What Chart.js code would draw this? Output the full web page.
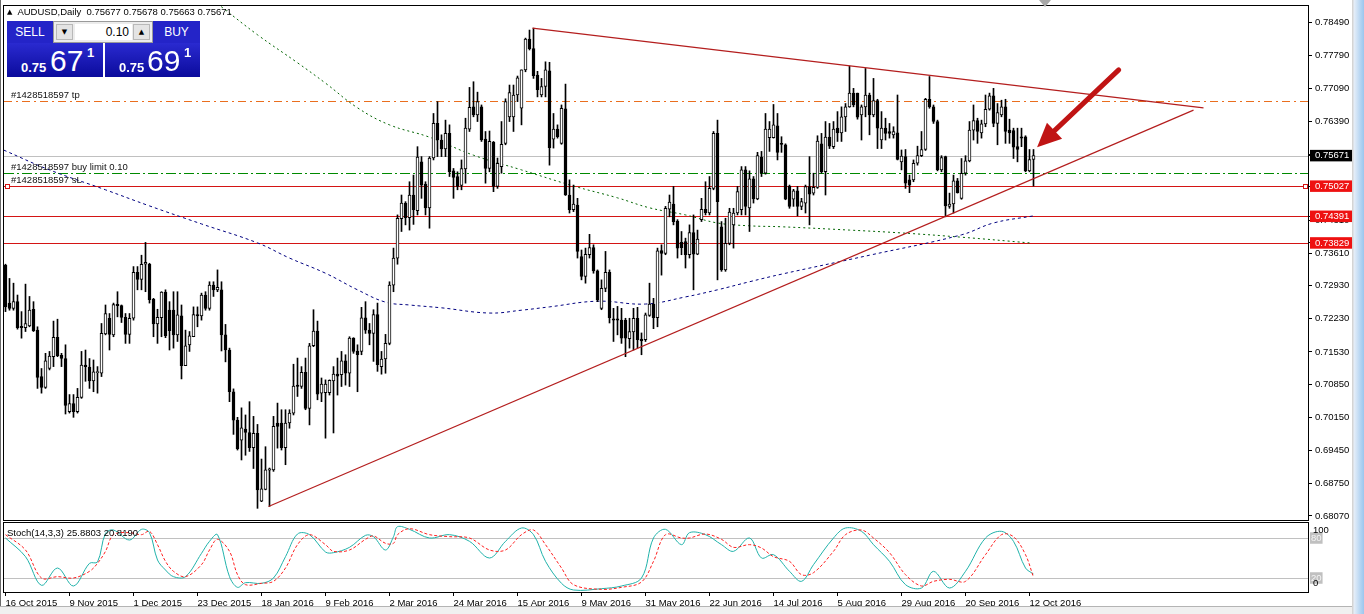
<!DOCTYPE html>
<html>
<head>
<meta charset="utf-8">
<title>AUDUSD Daily</title>
<script src="https://cdn.jsdelivr.net/npm/chart.js@4.4.1/dist/chart.umd.min.js"></script>
<style>
  html, body { margin: 0; padding: 0; background: #fff; }
  body { width: 1364px; height: 614px; position: relative; overflow: hidden;
         font-family: "Liberation Sans", Arial, sans-serif; }
  canvas { position: absolute; left: 0; }
  #mainChart { top: 0; }
  #stochChart { top: 520px; }
  .abs { position: absolute; white-space: nowrap; }
  #title { left: 7px; top: 6px; font-size: 9.5px; color: #000; }
  #title .tri { font-family: "DejaVu Sans"; font-size: 7px; margin-right: 5px; position: relative; top: -1px; }
  #stochTitle { left: 7px; top: 527px; font-size: 9.5px; color: #000; }
  .btn { color: #fff; background: #2424c8; font-size: 12px; text-align: center; line-height: 22px; box-sizing: border-box; }
  .quote { background: linear-gradient(#2a2ad0, #0b0b9c); color: #fff; box-sizing: border-box; }
  .quote span { position: absolute; }
  .small { font-size: 13px; font-weight: bold; line-height: 13px; }
  .big { font-size: 30px; line-height: 30px; }
  #lotBox { left: 53px; top: 21px; width: 100px; height: 22px; background: #ececec; border: 1px solid #9a9a9a; box-sizing: border-box; }
  .spin { position: absolute; top: 2px; width: 17px; height: 16px; background: #e4e4e4; border: 1px solid #b8b8b8; box-sizing: border-box;
          font-family: "DejaVu Sans"; font-size: 7px; line-height: 14px; text-align: center; color: #000; }
  #lotInput { position: absolute; left: 21px; top: 2px; width: 57px; height: 16px; background: #fff; font-size: 12px; line-height: 16px; text-align: right; padding-right: 3px; box-sizing: border-box; }
  #shiftMark { left: 1039px; top: 0; width: 0; height: 0; border-left: 6px solid transparent; border-right: 6px solid transparent; border-top: 7px solid #a8a8a8; }
  #sideBar { left: 1352px; top: 0; width: 12px; height: 614px; background: linear-gradient(to right, #d4d4d4 0, #d4d4d4 1px, #e6eef8 2px, #b8d6f2 8px, #9cc6ee 12px); }
  #bottomBar { left: 0; top: 606px; width: 1352px; height: 8px; background: #f0f0f0; border-top: 1px solid #b4b4b4; }
  #leftEdge { left: 0; top: 0; width: 1px; height: 606px; background: #6a6a6a; }
</style>
</head>
<body>
<canvas id="mainChart" width="1352" height="524"></canvas>
<canvas id="stochChart" width="1352" height="94"></canvas>

<div id="leftEdge" class="abs"></div>
<div id="title" class="abs"><span class="tri">▲</span>AUDUSD,Daily&nbsp; 0.75677 0.75678 0.75663 0.75671</div>
<div id="stochTitle" class="abs">Stoch(14,3,3) 25.8803 20.8190</div>

<div class="abs btn" style="left:7px;top:21px;width:46px;height:22px;">SELL</div>
<div id="lotBox" class="abs">
  <div class="spin" style="left:2px;">▼</div>
  <div id="lotInput">0.10</div>
  <div class="spin" style="left:79px;">▲</div>
</div>
<div class="abs btn" style="left:153px;top:21px;width:47px;height:22px;">BUY</div>
<div class="abs quote" style="left:7px;top:43px;width:96px;height:34px;">
  <span class="small" style="left:14px;top:18px;">0.75</span>
  <span class="big" style="left:43px;top:3px;">67</span>
  <span class="small" style="left:80px;top:3px;">1</span>
</div>
<div class="abs quote" style="left:105px;top:43px;width:95px;height:34px;">
  <span class="small" style="left:14px;top:18px;">0.75</span>
  <span class="big" style="left:42px;top:3px;">69</span>
  <span class="small" style="left:79px;top:3px;">1</span>
</div>
<div id="shiftMark" class="abs"></div>
<div id="sideBar" class="abs"></div>
<div id="bottomBar" class="abs"></div>

<script>
// daily candles, 16 Oct 2015 .. 13 Oct 2016 (index = trading day)
const opens = [
  0.7336,0.7256,0.7245,0.7259,0.7206,0.7204,0.7208,0.7243,0.7199,0.7101,
  0.7078,0.7118,0.7143,0.7184,0.7146,0.7139,0.7027,0.7044,0.7027,0.7057,
  0.7125,0.7121,0.7092,0.7110,0.7108,0.7191,0.7224,0.7189,0.7253,0.7251,
  0.7226,0.7190,0.7224,0.7321,0.7306,0.7338,0.7338,0.7264,0.7212,0.7225,
  0.7279,0.7241,0.7241,0.7189,0.7229,0.7124,0.7168,0.7185,0.7232,0.7229,
  0.7273,0.7245,0.7294,0.7284,0.7284,0.7189,0.7157,0.7069,0.7009,0.6967,
  0.6990,0.6983,0.6951,0.6981,0.6838,0.6863,0.6904,0.6904,0.7003,0.7003,
  0.6951,0.7003,0.7024,0.7083,0.7080,0.7110,0.7034,0.7166,0.7197,0.7066,
  0.7067,0.7067,0.7092,0.7106,0.7105,0.7134,0.7108,0.7182,0.7155,0.7154,
  0.7225,0.7199,0.7192,0.7232,0.7122,0.7138,0.7171,0.7294,0.7351,0.7434,
  0.7467,0.7436,0.7484,0.7451,0.7554,0.7507,0.7457,0.7562,0.7635,0.7600,
  0.7581,0.7614,0.7535,0.7523,0.7504,0.7539,0.7623,0.7670,0.7653,0.7670,
  0.7602,0.7540,0.7595,0.7502,0.7544,0.7593,0.7649,0.7649,0.7695,0.7667,
  0.7748,0.7813,0.7793,0.7737,0.7695,0.7713,0.7746,0.7602,0.7623,0.7593,
  0.7666,0.7484,0.7453,0.7463,0.7354,0.7312,0.7358,0.7373,0.7324,0.7245,
  0.7287,0.7321,0.7223,0.7223,0.7220,0.7220,0.7181,0.7195,0.7224,0.7180,
  0.7179,0.7230,0.7254,0.7225,0.7367,0.7361,0.7454,0.7465,0.7429,0.7384,
  0.7386,0.7358,0.7405,0.7359,0.7432,0.7454,0.7446,0.7498,0.7614,0.7417,
  0.7326,0.7382,0.7421,0.7446,0.7453,0.7537,0.7457,0.7518,0.7476,0.7564,
  0.7530,0.7605,0.7605,0.7630,0.7593,0.7590,0.7503,0.7475,0.7493,0.7460,
  0.7467,0.7502,0.7488,0.7500,0.7592,0.7533,0.7606,0.7586,0.7625,0.7615,
  0.7649,0.7670,0.7699,0.7699,0.7653,0.7670,0.7695,0.7653,0.7683,0.7600,
  0.7625,0.7618,0.7611,0.7615,0.7554,0.7565,0.7516,0.7516,0.7551,0.7567,
  0.7580,0.7686,0.7670,0.7639,0.7537,0.7565,0.7460,0.7465,0.7514,0.7477,
  0.7530,0.7556,0.7621,0.7641,0.7615,0.7634,0.7665,0.7693,0.7635,0.7653,
  0.7670,0.7621,0.7620,0.7586,0.7607,0.7607,0.7535,0.7559
];
const highs = [
  0.7338,0.7308,0.7298,0.7273,0.7238,0.7296,0.7270,0.7259,0.7206,0.7118,
  0.7150,0.7154,0.7218,0.7222,0.7150,0.7168,0.7063,0.7063,0.7076,0.7154,
  0.7157,0.7139,0.7136,0.7122,0.7213,0.7252,0.7234,0.7256,0.7280,0.7252,
  0.7234,0.7234,0.7333,0.7333,0.7357,0.7384,0.7340,0.7266,0.7243,0.7280,
  0.7284,0.7259,0.7280,0.7280,0.7252,0.7199,0.7196,0.7248,0.7248,0.7277,
  0.7280,0.7301,0.7301,0.7326,0.7301,0.7211,0.7161,0.7075,0.7015,0.7035,
  0.7020,0.7048,0.7017,0.7000,0.6927,0.6953,0.6908,0.7017,0.7045,0.7031,
  0.7031,0.7031,0.7127,0.7140,0.7122,0.7140,0.7171,0.7242,0.7218,0.7098,
  0.7094,0.7094,0.7122,0.7140,0.7154,0.7147,0.7185,0.7183,0.7168,0.7247,
  0.7259,0.7213,0.7242,0.7256,0.7154,0.7190,0.7301,0.7372,0.7442,0.7484,
  0.7470,0.7512,0.7526,0.7586,0.7565,0.7512,0.7565,0.7656,0.7681,0.7611,
  0.7642,0.7632,0.7540,0.7533,0.7558,0.7646,0.7711,0.7723,0.7701,0.7674,
  0.7618,0.7619,0.7597,0.7562,0.7639,0.7687,0.7716,0.7716,0.7735,0.7748,
  0.7815,0.7832,0.7836,0.7745,0.7730,0.7765,0.7764,0.7656,0.7632,0.7674,
  0.7718,0.7516,0.7505,0.7477,0.7368,0.7372,0.7401,0.7379,0.7326,0.7305,
  0.7365,0.7326,0.7245,0.7249,0.7245,0.7224,0.7224,0.7245,0.7247,0.7193,
  0.7235,0.7298,0.7266,0.7372,0.7379,0.7460,0.7484,0.7502,0.7432,0.7407,
  0.7393,0.7421,0.7442,0.7410,0.7477,0.7512,0.7523,0.7618,0.7642,0.7428,
  0.7435,0.7456,0.7456,0.7502,0.7544,0.7544,0.7535,0.7523,0.7574,0.7576,
  0.7656,0.7639,0.7675,0.7656,0.7607,0.7592,0.7505,0.7496,0.7502,0.7477,
  0.7505,0.7565,0.7530,0.7609,0.7614,0.7639,0.7635,0.7639,0.7660,0.7670,
  0.7677,0.7756,0.7709,0.7699,0.7674,0.7751,0.7699,0.7730,0.7686,0.7660,
  0.7646,0.7635,0.7628,0.7695,0.7579,0.7580,0.7526,0.7558,0.7587,0.7618,
  0.7688,0.7734,0.7674,0.7642,0.7567,0.7566,0.7488,0.7526,0.7519,0.7561,
  0.7567,0.7639,0.7674,0.7646,0.7642,0.7695,0.7699,0.7709,0.7677,0.7684,
  0.7686,0.7644,0.7625,0.7625,0.7625,0.7609,0.7580,0.7580
];
const lows = [
  0.7238,0.7241,0.7241,0.7201,0.7182,0.7196,0.7206,0.7196,0.7076,0.7066,
  0.7076,0.7115,0.7122,0.7143,0.7122,0.7022,0.7024,0.7015,0.7024,0.7055,
  0.7091,0.7076,0.7069,0.7066,0.7101,0.7189,0.7157,0.7185,0.7227,0.7215,
  0.7171,0.7171,0.7220,0.7284,0.7284,0.7280,0.7256,0.7185,0.7171,0.7185,
  0.7183,0.7157,0.7161,0.7175,0.7096,0.7124,0.7154,0.7185,0.7206,0.7220,
  0.7241,0.7241,0.7270,0.7280,0.7155,0.7132,0.7048,0.6979,0.6946,0.6925,
  0.6935,0.6943,0.6907,0.6823,0.6837,0.6862,0.6827,0.6901,0.6950,0.6946,
  0.6915,0.6992,0.7020,0.7059,0.7076,0.7031,0.6999,0.7164,0.7052,0.7048,
  0.6971,0.7062,0.6982,0.7062,0.7080,0.7083,0.7080,0.7150,0.7069,0.7147,
  0.7192,0.7168,0.7133,0.7112,0.7106,0.7108,0.7168,0.7280,0.7338,0.7407,
  0.7421,0.7410,0.7422,0.7442,0.7477,0.7442,0.7414,0.7558,0.7565,0.7565,
  0.7565,0.7523,0.7477,0.7495,0.7495,0.7509,0.7618,0.7649,0.7639,0.7597,
  0.7509,0.7533,0.7491,0.7498,0.7530,0.7590,0.7639,0.7618,0.7681,0.7632,
  0.7744,0.7790,0.7730,0.7691,0.7691,0.7691,0.7547,0.7583,0.7604,0.7591,
  0.7483,0.7446,0.7449,0.7351,0.7305,0.7298,0.7351,0.7319,0.7259,0.7242,
  0.7280,0.7214,0.7175,0.7189,0.7171,0.7143,0.7161,0.7157,0.7161,0.7147,
  0.7175,0.7228,0.7202,0.7206,0.7315,0.7358,0.7438,0.7421,0.7351,0.7358,
  0.7330,0.7351,0.7284,0.7358,0.7428,0.7442,0.7442,0.7495,0.7305,0.7323,
  0.7323,0.7379,0.7372,0.7442,0.7442,0.7442,0.7407,0.7467,0.7474,0.7523,
  0.7528,0.7576,0.7604,0.7558,0.7574,0.7474,0.7456,0.7460,0.7440,0.7453,
  0.7446,0.7421,0.7484,0.7498,0.7530,0.7484,0.7582,0.7582,0.7597,0.7597,
  0.7618,0.7669,0.7670,0.7644,0.7600,0.7649,0.7611,0.7649,0.7582,0.7582,
  0.7600,0.7604,0.7604,0.7558,0.7537,0.7498,0.7489,0.7512,0.7547,0.7565,
  0.7578,0.7667,0.7635,0.7535,0.7533,0.7438,0.7456,0.7446,0.7488,0.7475,
  0.7526,0.7554,0.7600,0.7593,0.7604,0.7628,0.7663,0.7628,0.7590,0.7649,
  0.7593,0.7593,0.7561,0.7554,0.7586,0.7533,0.7533,0.7503
];
const closes = [
  0.7248,0.7245,0.7259,0.7204,0.7205,0.7213,0.7241,0.7198,0.7099,0.7078,
  0.7134,0.7144,0.7184,0.7145,0.7139,0.7040,0.7044,0.7027,0.7057,0.7125,
  0.7122,0.7092,0.7111,0.7111,0.7192,0.7234,0.7190,0.7253,0.7251,0.7226,
  0.7190,0.7224,0.7321,0.7306,0.7338,0.7342,0.7263,0.7212,0.7226,0.7279,
  0.7187,0.7198,0.7189,0.7231,0.7124,0.7166,0.7187,0.7232,0.7229,0.7273,
  0.7245,0.7294,0.7284,0.7289,0.7189,0.7157,0.7069,0.7009,0.6949,0.6993,
  0.6983,0.6951,0.6981,0.6862,0.6864,0.6904,0.6906,0.6996,0.6996,0.6951,
  0.7003,0.7024,0.7081,0.7080,0.7110,0.7034,0.7166,0.7197,0.7064,0.7085,
  0.7085,0.7093,0.7106,0.7102,0.7134,0.7108,0.7182,0.7154,0.7147,0.7225,
  0.7199,0.7192,0.7232,0.7126,0.7138,0.7171,0.7294,0.7351,0.7435,0.7467,
  0.7436,0.7484,0.7453,0.7564,0.7505,0.7457,0.7562,0.7635,0.7600,0.7581,
  0.7614,0.7533,0.7521,0.7502,0.7540,0.7625,0.7669,0.7653,0.7681,0.7600,
  0.7540,0.7597,0.7502,0.7551,0.7591,0.7681,0.7700,0.7695,0.7731,0.7748,
  0.7813,0.7793,0.7736,0.7706,0.7713,0.7748,0.7584,0.7623,0.7607,0.7667,
  0.7484,0.7453,0.7465,0.7365,0.7312,0.7359,0.7373,0.7324,0.7263,0.7287,
  0.7321,0.7225,0.7220,0.7220,0.7182,0.7182,0.7196,0.7224,0.7179,0.7176,
  0.7231,0.7254,0.7225,0.7366,0.7361,0.7456,0.7469,0.7428,0.7372,0.7373,
  0.7358,0.7405,0.7359,0.7391,0.7454,0.7447,0.7498,0.7614,0.7470,0.7326,
  0.7382,0.7448,0.7446,0.7491,0.7537,0.7460,0.7518,0.7476,0.7567,0.7530,
  0.7623,0.7623,0.7632,0.7574,0.7591,0.7475,0.7460,0.7493,0.7460,0.7470,
  0.7502,0.7486,0.7500,0.7598,0.7533,0.7606,0.7587,0.7623,0.7615,0.7649,
  0.7670,0.7699,0.7674,0.7648,0.7670,0.7695,0.7653,0.7683,0.7625,0.7625,
  0.7614,0.7614,0.7618,0.7559,0.7566,0.7509,0.7505,0.7551,0.7567,0.7580,
  0.7686,0.7670,0.7639,0.7537,0.7563,0.7461,0.7465,0.7514,0.7489,0.7530,
  0.7556,0.7621,0.7641,0.7618,0.7634,0.7665,0.7693,0.7635,0.7658,0.7670,
  0.7618,0.7615,0.7585,0.7580,0.7604,0.7535,0.7559,0.7567
];

// time axis labels (every 16th bar)
const dateLabels = ["16 Oct 2015","9 Nov 2015","1 Dec 2015","23 Dec 2015","18 Jan 2016","9 Feb 2016",
  "2 Mar 2016","24 Mar 2016","15 Apr 2016","9 May 2016","31 May 2016","22 Jun 2016","14 Jul 2016",
  "5 Aug 2016","29 Aug 2016","20 Sep 2016","12 Oct 2016"];
const dateBars = [0,16,32,48,64,80,96,112,128,144,160,176,192,208,224,240,256];

// price scale labels
const priceTicks = [0.78490,0.77790,0.77090,0.76390,0.75690,0.75010,0.74310,0.73610,0.72930,
  0.72230,0.71530,0.70850,0.70150,0.69450,0.68750,0.68070];

// order / level lines
const bidPrice = 0.75671;
const tpLevel = 0.76823;
const buyLimitLevel = 0.75310;
const stopLevel = 0.75027;
const supportLevels = [0.74391, 0.73829];

// moving averages
const maGreenBars = [50,54,63,73,80,88,96,106,117,129,142,153,161,170,178,186,194,211,224,239,256];
const maGreenVals = [0.7908,0.7881,0.7822,0.7763,0.7720,0.7668,0.7632,0.7606,0.7568,0.7537,0.7503,
  0.7478,0.7457,0.7442,0.7425,0.7419,0.7417,0.7410,0.7404,0.7395,0.7383];
const maNavyBars = [-0.5,11,25,36,49,63,71,80,88,95,101,109,121,129,136,148,160,170,178,186,194,216,239,247,257];
const maNavyVals = [0.7579,0.7537,0.7495,0.7461,0.7423,0.7383,0.7351,0.7319,0.7284,0.7258,0.7252,0.7246,
  0.7235,0.7241,0.7248,0.7260,0.7254,0.7269,0.7284,0.7301,0.7317,0.7357,0.7400,0.7425,0.7440];

// triangle trendlines: [bar, price] end points
const trendUpper = [[131.75, 0.7836], [299.5, 0.7668]];
const trendLower = [[65.75, 0.6827], [297.0, 0.7663]];
// arrow: tail -> tip
const arrowPts = [[278.3, 0.7748], [257.9, 0.7585]];

// stochastic (14,3,3), sampled along the panel
const stochBars = [0,5,9,13,17,21,23,25,27,31,34,36,38,40,42,45,49,51,53,56,58,60,64,67,70,73,76,80,82,86,
  90,92,95,97,98,101,106,111,116,121,125,129,132,135,139,142,149,154,159,162,165,169,171,175,179,182,186,
  189,192,196,199,202,207,210,214,217,221,225,229,232,236,240,245,249,252,255,257];
const stochMain = [80,52,9,35,8, 42,44,87,92,77, 93,88,47,32,22, 22,57,75,85,22, 6,13,12,20,52,
  86,85,59,58,66, 84,82,62,82,97, 93,80,85,75,50, 75,95,85,45,12, 2,4,8,20,80, 93,70,88,85,70,
  60,80,50,55,30, 15,40,80,95,90, 70,45,10,5,30, 5,30,80,90,75, 35,26];
const stochSignal = [85,62,20,22,20, 30,42,60,85,88, 85,90,70,45,30, 22,40,62,78,60, 25,10,12,15,35,
  70,85,70,60,62, 78,83,72,72,85, 94,85,82,80,62, 62,85,92,70,35, 10,3,6,14,45, 85,80,80,86,78,
  66,70,65,52,45, 25,28,60,85,92, 80,58,25,8,15, 18,15,55,85,82, 55,21];
const stochLevels = [80, 20];

const FONT_FAMILY = "'Liberation Sans', Arial, sans-serif";
const tickFont = { family: FONT_FAMILY, size: 9.5, lineHeight: 1 };
const labelFont = "9.5px " + FONT_FAMILY;
const X_MIN = -0.625, X_MAX = 325.625;

// candle datasets
const candleIdx = opens.map((o, i) => i);
const wickData = candleIdx.map(i => ({ x: i, y: [lows[i], highs[i]] }));
const bodyData = candleIdx.map(i => {
  let lo = Math.min(opens[i], closes[i]);
  let hi = Math.max(opens[i], closes[i]);
  if (hi - lo < 0.00025) {
    const m = (hi + lo) / 2;
    lo = m - 0.000125;
    hi = m + 0.000125;
  }
  return { x: i, y: [lo, hi] };
});
const bodyFill = candleIdx.map(i => closes[i] >= opens[i] ? '#ffffff' : '#000000');

const markerTicks = [bidPrice, stopLevel, supportLevels[0], supportLevels[1]];
const markerColors = ['#000000', '#ee1111', '#ee1111', '#ee1111'];

const framePlugin = {
  id: 'frame',
  afterDraw(chart) {
    const { ctx, chartArea: a } = chart;
    ctx.save();
    ctx.strokeStyle = '#000';
    ctx.lineWidth = 1;
    ctx.strokeRect(a.left + 0.5, a.top + 0.5, a.right - a.left, a.bottom - a.top);
    ctx.restore();
  }
};

const levelStyles = [
  { value: tpLevel, color: '#ea6e1e', dash: [8, 4, 2, 4], label: '#1428518597 tp' },
  { value: bidPrice, color: '#c0c0c0', dash: [] },
  { value: buyLimitLevel, color: '#008a00', dash: [10, 3, 2, 3], label: '#1428518597 buy limit 0.10' },
  { value: stopLevel, color: '#d41414', dash: [], label: '#1428518597 sL', marker: true },
  { value: supportLevels[0], color: '#d41414', dash: [] },
  { value: supportLevels[1], color: '#d41414', dash: [] }
];

// horizontal line drawn pixel by pixel so dashes stay crisp and keep their colour
function hLine(ctx, x0, x1, row, color, dash) {
  ctx.fillStyle = color;
  if (!dash.length) { ctx.fillRect(x0, row, x1 - x0, 1); return; }
  let x = x0, k = 0;
  while (x < x1) {
    const len = dash[k % dash.length];
    if (k % 2 === 0) ctx.fillRect(x, row, Math.min(len, x1 - x), 1);
    x += len;
    k++;
  }
}

const levelPlugin = {
  id: 'levels',
  beforeDatasetsDraw(chart) {
    const { ctx, chartArea: a, scales } = chart;
    ctx.save();
    levelStyles.forEach(l => {
      const row = Math.round(scales.y.getPixelForValue(l.value));
      hLine(ctx, a.left + 1, a.right, row, l.color, l.dash);
    });
    ctx.restore();
  },
  afterDatasetsDraw(chart) {
    const { ctx, chartArea: a, scales } = chart;
    ctx.save();
    ctx.font = labelFont;
    ctx.textBaseline = 'alphabetic';
    levelStyles.forEach(l => {
      const row = Math.round(scales.y.getPixelForValue(l.value));
      if (l.label) {
        ctx.fillStyle = '#111';
        ctx.fillText(l.label, a.left + 8, row - 3);
      }
      if (l.marker) {
        ctx.strokeStyle = l.color;
        ctx.lineWidth = 1;
        ctx.fillStyle = '#fff';
        [a.left + 2, a.right - 5].forEach(x => {
          ctx.fillRect(x + 0.5, row - 1.5, 4, 4);
          ctx.strokeRect(x + 0.5, row - 1.5, 4, 4);
        });
      }
    });
    // red arrow
    const sx = scales.x, sy = scales.y;
    const x0 = sx.getPixelForValue(arrowPts[0][0]), y0 = sy.getPixelForValue(arrowPts[0][1]);
    const x1 = sx.getPixelForValue(arrowPts[1][0]), y1 = sy.getPixelForValue(arrowPts[1][1]);
    const ang = Math.atan2(y1 - y0, x1 - x0);
    const headLen = 24, headW = 11;
    const bx = x1 - headLen * Math.cos(ang), by = y1 - headLen * Math.sin(ang);
    ctx.strokeStyle = '#c01414';
    ctx.fillStyle = '#c01414';
    ctx.lineWidth = 5;
    ctx.lineCap = 'round';
    ctx.beginPath();
    ctx.moveTo(x0, y0);
    ctx.lineTo(bx, by);
    ctx.stroke();
    ctx.beginPath();
    ctx.moveTo(x1, y1);
    ctx.lineTo(bx + headW * Math.sin(ang), by - headW * Math.cos(ang));
    ctx.lineTo(bx - headW * Math.sin(ang), by + headW * Math.cos(ang));
    ctx.closePath();
    ctx.fill();
    ctx.restore();
  }
};

new Chart(document.getElementById('mainChart'), {
  type: 'bar',
  data: {
    datasets: [
      { type: 'bar', data: wickData, backgroundColor: '#000', borderWidth: 0, barThickness: 1, grouped: false, order: 5 },
      { type: 'bar', data: bodyData, backgroundColor: bodyFill, borderColor: '#000', borderWidth: 1,
        borderSkipped: false, barThickness: 3, grouped: false, order: 4 },
      { type: 'line', data: maNavyBars.map((b, k) => ({ x: b, y: maNavyVals[k] })), borderColor: '#000080',
        borderWidth: 1, borderDash: [3, 3], pointRadius: 0, tension: 0.4, order: 6 },
      { type: 'line', data: maGreenBars.map((b, k) => ({ x: b, y: maGreenVals[k] })), borderColor: '#006400',
        borderWidth: 1, borderDash: [2, 3], pointRadius: 0, tension: 0.4, order: 6 },
      { type: 'line', data: trendUpper.map(p => ({ x: p[0], y: p[1] })), borderColor: '#b41e1e',
        borderWidth: 1.2, pointRadius: 0, order: 1 },
      { type: 'line', data: trendLower.map(p => ({ x: p[0], y: p[1] })), borderColor: '#b41e1e',
        borderWidth: 1.2, pointRadius: 0, order: 1 }
    ]
  },
  options: {
    responsive: false,
    animation: false,
    events: [],
    layout: { padding: { left: 3, top: 5, right: 0, bottom: 4 } },
    plugins: { legend: { display: false }, tooltip: { enabled: false } },
    scales: {
      x: { type: 'linear', min: X_MIN, max: X_MAX, offset: false, display: false },
      y: {
        position: 'right',
        min: 0.679838, max: 0.788487,
        afterFit(scale) { scale.width = 44; scale.paddingTop = 0; scale.paddingBottom = 0; },
        afterBuildTicks(scale) { scale.ticks = priceTicks.concat(markerTicks).map(v => ({ value: v })); },
        border: { display: false },
        grid: { drawOnChartArea: false, drawTicks: true, tickLength: 4, color: '#000' },
        ticks: {
          autoSkip: false,
          padding: 3,
          crossAlign: 'near',
          font: tickFont,
          color: ctx => markerTicks.includes(ctx.tick.value) ? '#fff' : '#000',
          showLabelBackdrop: ctx => markerTicks.includes(ctx.tick.value),
          backdropColor: ctx => { const k = markerTicks.indexOf(ctx.tick.value); return k >= 0 ? markerColors[k] : 'rgba(0,0,0,0)'; },
          backdropPadding: { top: 1, bottom: 1, left: 5, right: 3 },
          callback: v => v.toFixed(5)
        }
      }
    }
  },
  plugins: [levelPlugin, framePlugin]
});

const stochPlugin = {
  id: 'stochLevels',
  beforeDatasetsDraw(chart) {
    const { ctx, chartArea: a, scales } = chart;
    ctx.save();
    stochLevels.forEach(v => {
      hLine(ctx, a.left + 1, a.right, Math.round(scales.y.getPixelForValue(v)), '#c0c0c0', []);
    });
    ctx.restore();
  },
  afterDraw(chart) {
    const { ctx, chartArea: a, scales } = chart;
    ctx.save();
    ctx.font = labelFont;
    ctx.fillStyle = '#000';
    ctx.textBaseline = 'top';
    ctx.fillText('100', a.right + 5, scales.y.getPixelForValue(100) + 1);
    ctx.textBaseline = 'bottom';
    ctx.fillText('0', a.right + 5, scales.y.getPixelForValue(0) - 3);
    ctx.restore();
  }
};

new Chart(document.getElementById('stochChart'), {
  type: 'line',
  data: {
    datasets: [
      { data: stochBars.map((b, k) => ({ x: b, y: stochSignal[k] })), borderColor: '#ff2020', borderWidth: 1,
        borderDash: [3, 2], pointRadius: 0, tension: 0.35 },
      { data: stochBars.map((b, k) => ({ x: b, y: stochMain[k] })), borderColor: '#20b2aa', borderWidth: 1,
        pointRadius: 0, tension: 0.35 }
    ]
  },
  options: {
    responsive: false,
    animation: false,
    events: [],
    layout: { padding: { left: 3, top: 2, right: 0, bottom: 0 } },
    plugins: { legend: { display: false }, tooltip: { enabled: false } },
    scales: {
      x: {
        type: 'linear', min: X_MIN, max: X_MAX, offset: false,
        afterFit(scale) { scale.height = 22; scale.paddingLeft = 0; scale.paddingRight = 0; },
        afterBuildTicks(scale) { scale.ticks = dateBars.map(v => ({ value: v })); },
        border: { display: false },
        grid: { drawOnChartArea: false, drawTicks: true, tickLength: 4, color: '#000' },
        ticks: {
          autoSkip: false, maxRotation: 0, align: 'start', padding: 3, font: tickFont, color: '#000',
          callback: v => dateLabels[dateBars.indexOf(v)]
        }
      },
      y: {
        position: 'right', min: -1, max: 104,
        afterFit(scale) { scale.width = 44; scale.paddingTop = 0; scale.paddingBottom = 0; },
        afterBuildTicks(scale) { scale.ticks = stochLevels.map(v => ({ value: v })); },
        border: { display: false },
        grid: { drawOnChartArea: false, drawTicks: false },
        ticks: {
          autoSkip: false, padding: 3, crossAlign: 'near', font: tickFont, color: '#f4f4f4',
          showLabelBackdrop: true, backdropColor: '#c0c0c0',
          backdropPadding: { top: 1, bottom: 1, left: 1, right: 1 }
        }
      }
    }
  },
  plugins: [stochPlugin, framePlugin]
});
</script>
</body>
</html>
